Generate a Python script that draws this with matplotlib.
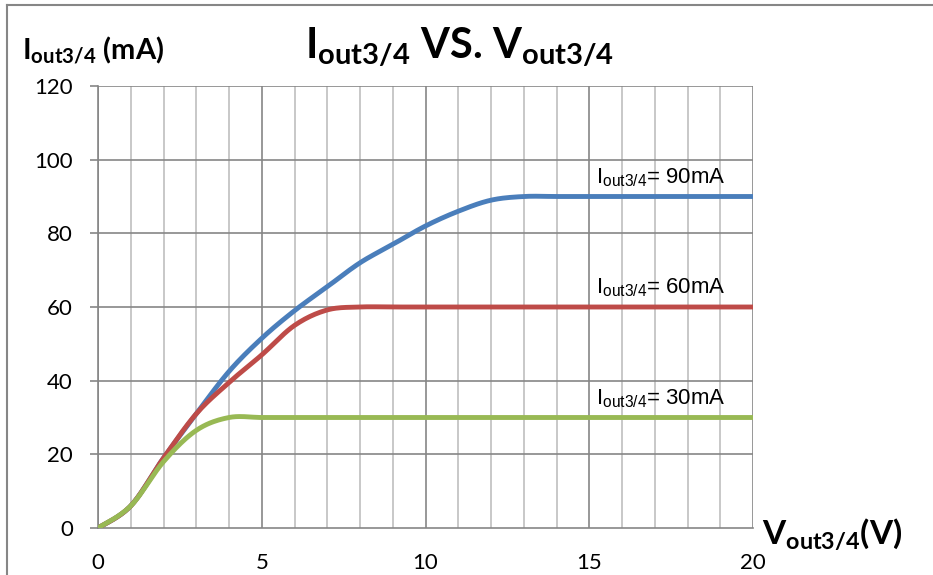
import numpy as np
import matplotlib.pyplot as plt
from matplotlib.lines import Line2D

plt.rcParams['mathtext.fontset'] = 'custom'
plt.rcParams['mathtext.rm'] = 'Lato'
plt.rcParams['mathtext.bf'] = 'Lato:bold'
plt.rcParams['mathtext.sf'] = 'Liberation Sans'

# data
v_out = [0, 1, 2, 3, 4, 5, 6, 7, 8, 9, 10, 11, 12, 13, 14, 15, 16, 17, 18, 19, 20]
i_90 = [0, 6, 19, 31, 42.5, 51.5, 59, 65.5, 72, 77, 82, 86, 89, 90, 90, 90, 90, 90, 90, 90, 90]
i_60 = [0, 6, 19, 31, 39.5, 47, 55, 59.2, 60, 60, 60, 60, 60, 60, 60, 60, 60, 60, 60, 60, 60]
i_30 = [0, 6, 18, 26.5, 30, 30, 30, 30, 30, 30, 30, 30, 30, 30, 30, 30, 30, 30, 30, 30, 30]
labels = ['90mA', '60mA', '30mA']
colors = ['#4A7EBB', '#BE4B48', '#98B954']


def smooth(x, y, n=20):
    # excel-like smoothed line (catmull-rom bezier)
    x = np.asarray(x, float)
    y = np.asarray(y, float)
    px = np.concatenate([[x[0]], x, [x[-1]]])
    py = np.concatenate([[y[0]], y, [y[-1]]])
    xs, ys = [], []
    t = np.linspace(0, 1, n)
    for i in range(1, len(px) - 2):
        p0 = np.array([px[i], py[i]])
        p3 = np.array([px[i + 1], py[i + 1]])
        c1 = p0 + (p3 - np.array([px[i - 1], py[i - 1]])) / 6
        c2 = p3 - (np.array([px[i + 2], py[i + 2]]) - p0) / 6
        pts = ((1 - t) ** 3)[:, None] * p0 + (3 * (1 - t) ** 2 * t)[:, None] * c1 \
            + (3 * (1 - t) * t ** 2)[:, None] * c2 + (t ** 3)[:, None] * p3
        xs.extend(pts[:, 0])
        ys.extend(pts[:, 1])
    return xs, ys


fig = plt.figure(figsize=(9.33, 5.75), dpi=100)
ax = fig.add_axes([98 / 933, 47 / 575, 655 / 933, 442 / 575])

for xv in range(0, 21):
    c = '#868686' if xv % 5 == 0 else '#BFBFBF'
    ax.axvline(xv, color=c, lw=1.2, zorder=1)
for yv in range(20, 121, 20):
    ax.axhline(yv, color='#868686', lw=1.2, zorder=1)

for ys, col in zip([i_90, i_60, i_30], colors):
    sx, sy = smooth(v_out, ys)
    ax.plot(sx, sy, color=col, lw=3.5, solid_capstyle='round', zorder=3)

ax.set_xlim(0, 20)
ax.set_ylim(0, 120)
ax.set_xticks(range(0, 21, 5))
ax.set_yticks(range(0, 121, 20))
for s in ['top', 'right']:
    ax.spines[s].set_visible(False)
for s in ['left', 'bottom']:
    ax.spines[s].set_color('#868686')
    ax.spines[s].set_linewidth(1.2)
ax.tick_params(axis='y', length=6, width=1.2, color='#868686', pad=12)
ax.tick_params(axis='x', length=0, pad=18)
for lab in ax.get_xticklabels() + ax.get_yticklabels():
    lab.set_fontfamily('Lato')
    lab.set_fontsize(16)

for ys, txt in zip([i_90, i_60, i_30], labels):
    ax.text(15.2, ys[-1] + 3.6, r'I$_{\mathsf{out3/4}}$= ' + txt,
            fontfamily='Liberation Sans', fontsize=16, zorder=4)

fig.text(460 / 933, 1 - 47 / 575, r'I$_{\mathbf{out3/4}}$ VS. V$_{\mathbf{out3/4}}$',
         fontfamily='Lato', fontweight='bold', fontsize=30, ha='center', va='center')
fig.text(22 / 933, 1 - 50 / 575, r'I$_{\mathbf{out3/4}}$ (mA)',
         fontfamily='Lato', fontweight='bold', fontsize=21, ha='left', va='center')
fig.text(762 / 933, 1 - 535 / 575, r'V$_{\mathbf{out3/4}}$(V)',
         fontfamily='Lato', fontweight='bold', fontsize=24, ha='left', va='center')

# outer chart border (top and left visible)
fig.add_artist(Line2D([7 / 933, 7 / 933], [0, 1 - 5 / 575], transform=fig.transFigure,
                      color='#868686', lw=1.5))
fig.add_artist(Line2D([7 / 933, 1], [1 - 5 / 575, 1 - 5 / 575], transform=fig.transFigure,
                      color='#868686', lw=1.5))

fig.savefig('out.png', dpi=100)
